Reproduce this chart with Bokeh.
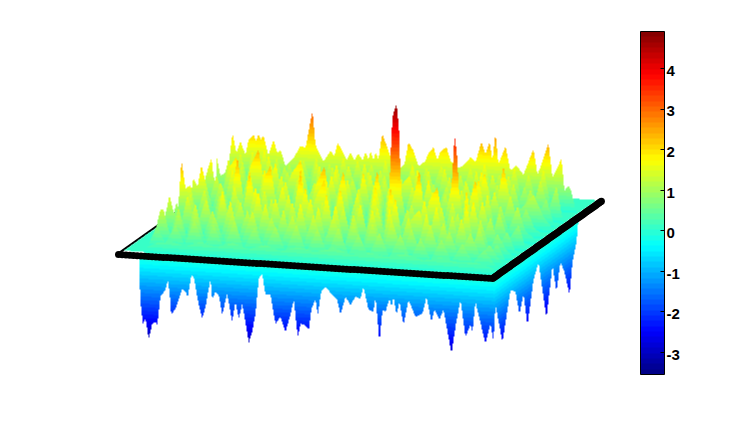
import numpy as np
from bokeh.plotting import figure
from bokeh.models import ColorBar, FixedTicker, LinearColorMapper, Range1d
from bokeh.core.properties import value
from bokeh.embed import file_html
from bokeh.resources import INLINE

# ---- values: z along ridges of the surface ----
Z_MIN, Z_MAX = -3.54, 4.91
BAR_TICKS = [-3, -2, -1, 0, 1, 2, 3, 4]
BAR_LABELS = ["-3", "-2", "-1", "0", "1", "2", "3", "4"]
PLANE_Z = 0.06

row01 = (0.85, [226,232,236,240,245,248,253,255.5,258,260.5,263,268,273,277,280,285,293,300,305,312,315,323,330,334,337,342,346,350,354,358,362,365,368,370,373,375,378,380,382,385,388,392,400,404,408,413,418,425,427,433,437,440,446,450,458,463,470,475,481,485,489,492,495,498,505,510,516,523,533,537,540,548,552,557,561,564,568,571,575],
         [0.2,2.08,1.33,1.8,1.28,1.86,2.06,1.85,2.08,1.9,2.05,1.33,1.92,1.43,1.55,0.99,1.28,1.76,1.69,3.1,1.83,1.24,1.64,1.46,1.96,1.67,1.35,1.62,1.35,1.63,1.35,1.69,1.4,1.73,1.4,1.7,1.45,2.0,2.38,2.09,1.79,1.33,1.16,1.33,2.15,1.85,1.29,1.5,1.73,2.02,1.57,1.88,2.06,1.57,1.31,1.42,1.74,1.56,2.35,1.9,2.37,1.68,2.69,1.55,2.22,1.35,1.55,1.22,2.2,1.26,1.54,2.44,1.18,1.58,1.9,0.72,0.92,0.7,0.05])
row02 = (0.78, [223,229,234,240,246,252,258,264,270,276,283,289,296,303,309,316,322,329,336,343,350,357,364,371,378,385,391,398,404,412,419,426,433,441,448,455,462,470,477,484,491,499,506,514,521,528,535,543,550,558],
         [.2,1.2,.6,1.6,.7,1.7,.8,1.8,.6,1.5,.7,1.3,.5,1.5,.8,1.6,.6,1.4,.7,1.7,.6,1.6,.8,1.5,.6,1.7,.7,1.3,.6,1.6,.7,1.5,.8,1.6,.6,1.3,.7,1.6,.6,1.8,.7,1.4,.6,1.7,.5,1.5,.6,1.7,.4,.1])
row03 = (0.72, [216,220,225,228,234,242,248,255,262,268,276,284,292,300,308,316,324,332,340,348,356,364,372,380,388,396,404,412,420,428,436,444,452,460,468,476,484,492,500,508,516,524,532,540,548,556,562],
         [1.6,.85,1.03,1.53,.5,1.5,.5,1.7,.6,1.8,.5,1.4,.4,1.7,.5,1.6,.4,1.5,.5,1.6,.6,1.7,.5,1.5,.4,1.3,.5,1.7,.6,1.6,.4,1.7,.6,1.5,.5,1.7,.4,1.6,.6,1.6,.4,1.2,.4,1.5,.4,1.3,.1])
row04 = (0.66, [210,216,222,228,235,241,248,256,264,271,279,287,295,302,310,319,327,336,344,352,360,368,376,384,392,401,409,417,425,433,441,449,457,465,473,481,489,497,505,513,521,530,538,546,553],
         [.2,1.1,.5,1.7,.6,1.5,.5,1.9,.5,1.6,.6,1.4,.5,1.6,.4,1.7,.5,1.8,.6,1.3,.5,1.6,.6,1.5,.5,1.4,.4,1.8,.6,1.3,.5,1.6,.4,1.5,.6,1.9,.5,1.4,.5,1.5,.4,1.3,.4,1.0,.1])
row05 = (0.6, [203,205,211,213,220,229,236,243,250,258,266,275,282,291,300,310,318,327,335,343,352,361,370,377,384,392,400,409,419,428,437,446,456,466,475,484,494,503,512,522,533,543,552],
         [.3,1.18,1.88,1.23,.5,1.6,2.0,.6,1.7,2.3,.6,1.9,.7,1.5,2.0,.5,1.5,.5,1.7,.6,1.4,.5,1.7,.5,1.5,.6,1.3,1.7,.5,1.5,.6,1.4,.5,1.6,.6,2.0,.5,2.3,.6,.8,1.3,.5,.1])
row06 = (0.52, [194,200,208,216,224,232,240,248,256,264,272,281,289,297,305,314,322,331,339,347,355,363,371,379,387,396,404,412,420,428,436,445,453,461,469,478,486,494,502,510,518,526,534,542],
         [.2,1.3,.5,1.5,.6,1.8,.5,1.6,.5,1.9,.5,1.7,.4,1.6,.6,1.5,.5,1.8,.6,1.7,.5,2.0,.5,1.6,.4,1.2,.5,1.6,.5,1.9,.5,1.4,.4,1.6,.5,2.0,.5,1.6,.5,1.5,.4,1.0,.3,.1])
row07 = (0.45, [187,193,197,201,205,212,220,229,237,244,249,257,264,270,277,285,293,300,308,315,324,332,343,350,358,366,377,383,387,389,390,392,395,396,397,399,399.5,401,406,413,419,425,432,440,445,451,453,454,455,457,458,464,470,475,481,487,494,500,508,517,525,535],
         [.2,1.58,1.25,2.07,1.46,.5,1.5,.6,2.45,.7,2.0,.6,1.8,2.2,.6,1.7,.5,2.2,.5,1.6,2.3,.6,2.2,.5,1.6,.5,2.3,.5,1.5,1.7,2.8,4.3,4.7,4.8,4.5,3.6,2.8,1.5,.5,1.4,2.4,.5,1.7,.5,.8,1.9,3.0,3.83,3.5,2.9,1.9,.5,1.5,2.2,.6,1.7,.5,1.3,.4,1.3,.4,.1])
row08 = (0.36, [177,178,181,185,190,196,204,212,219,227,234,241,249,257,264,272,282,291,300,307,316,324,331,339,347,357,365,375,384,392,402,411,420,429,437,444,452,460,466,473,482,491,499,508,518,525],
         [.2,.86,2.5,1.45,1.58,.5,1.5,.4,1.3,.4,1.7,.5,2.2,.5,1.6,.4,1.8,.5,2.3,.5,1.5,2.1,.5,1.7,.4,1.7,.4,2.0,.5,1.8,.4,1.4,.4,1.6,2.1,.5,1.6,.4,2.1,.4,1.7,.4,1.3,.3,.9,.1])
row09 = (0.30, [170,176,183,190,197,205,213,222,230,238,246,255,263,271,279,288,296,305,313,322,330,340,348,357,365,374,382,390,398,407,415,424,432,441,449,457,465,473,481,490,498,507,515],
         [.2,1.1,.4,1.5,.4,1.3,.4,1.7,.5,1.4,.4,1.9,.4,1.5,.4,1.7,.5,2.0,.4,1.5,.4,2.0,.5,1.4,.4,1.9,.4,2.2,.5,1.4,.4,1.8,.4,1.6,.4,1.4,.5,1.9,.4,1.3,.3,.8,.1])
row10 = (0.24, [163,165,169,173,180,187,196,206,214,222,230,240,248,258,266,275,284,292,300,310,318,326,334,343,351,360,368,377,386,395,402,410,419,427,436,444,452,459,466,473,480,489,497,506,512],
         [.2,.83,1.53,.97,.4,1.6,.4,1.5,.4,1.8,.4,1.5,.4,1.9,.4,1.7,.4,1.6,.4,1.8,.4,2.0,.5,1.5,.4,1.7,.4,1.6,.4,2.0,.4,1.2,1.6,.4,1.8,.4,1.5,.4,2.0,.4,1.4,.3,.9,.3,.1])
row11 = (0.18, [157,163,170,178,186,195,203,212,220,230,238,247,255,265,274,283,291,300,309,318,326,335,344,353,362,372,381,389,398,408,417,426,434,443,452,461,470,479,488,497,505],
         [.2,.9,.3,1.3,.3,1.5,.3,1.3,.3,1.7,.3,1.4,.3,1.7,.3,1.5,.3,1.8,.3,1.7,.3,1.8,.3,1.5,.3,1.7,.3,1.8,.3,1.5,.3,1.7,.3,1.4,.3,1.6,.3,1.3,.3,.7,.1])
row12 = (0.14, [153,158,160,163,170,178,186,195,204,214,223,232,241,252,261,271,280,292,303,313,322,333,343,353,362,372,382,391,402,411,420,430,439,449,458,470,480,489,498,503],
         [.1,1.03,1.3,1.31,.3,1.2,.3,1.3,.3,1.2,.3,1.4,.3,1.5,.3,1.3,.3,1.4,.3,1.5,.3,1.5,.3,1.3,.3,1.3,.3,1.5,.3,1.2,.3,1.4,.3,1.2,.3,1.2,.3,.8,.3,.1])
row13 = (0.10, [148,156,165,175,184,194,204,213,223,234,243,254,264,275,285,296,306,317,327,338,348,358,368,379,389,400,410,420,430,441,451,462,472,484,494,500],
         [.1,.8,.2,.9,.2,1.1,.2,1.0,.2,1.2,.2,1.0,.2,1.1,.2,1.2,.2,1.1,.2,1.2,.2,1.0,.2,1.1,.2,1.1,.2,1.0,.2,1.0,.2,.9,.2,.7,.2,.05])
row14 = (0.06, [143,155,170,185,200,215,232,248,265,280,298,315,333,350,368,385,405,423,440,458,475,490,497],
         [.05,.3,.4,.25,.45,.3,.5,.3,.5,.3,.5,.35,.55,.35,.45,.35,.5,.3,.45,.3,.35,.2,.05])

under_front_v = 0.02
under_front_x = [138.3,140,142.3,145,148.3,151.7,155,156.7,160,165,167.3,169.3,170.7,175,181.7,185,187.3,191,193.3,197.3,201.7,205,210,211.7,215,218.3,221.7,226.7,231.7,235,238.3,241.7,245,248.3,251.7,255,258.3,261.7,265,270,275,280,285,290,293.3,297.3,300,303.3,308.3,311,315,317.3,320.7,325,331.7,336.7,340,345,350,355,360,363,368,373,375,379,382,385,389,391,393,396,399,403,408,415,422,426,431,434,439,443,451,455,460,465,470,472,475,485,490,492]
under_front_z = [-0.2,-1.7,-2.5,-2.33,-3.06,-2.5,-2.41,-2.52,-1.47,-1.2,-0.83,-1.38,-2.11,-1.88,-1.13,-1.23,-1.41,-0.59,-0.66,-1.5,-2.19,-1.74,-0.69,-1.43,-1.16,-1.27,-1.99,-1.2,-2.23,-1.48,-2.1,-1.54,-2.2,-2.97,-2.55,-1.88,-0.57,-0.38,-1.15,-1.14,-2.2,-1.93,-2.47,-1.83,-1.27,-2.63,-2.14,-2.17,-2.34,-1.56,-1.18,-1.77,-0.91,-0.71,-0.99,-1.17,-1.71,-1.03,-1.32,-1.01,-1.07,-0.62,-1.46,-1.52,-0.96,-2.62,-1.43,-1.5,-1.0,-1.3,-0.92,-1.58,-1.09,-1.93,-1.0,-1.61,-1.48,-0.84,-1.76,-1.3,-1.66,-1.28,-2.89,-1.88,-0.87,-2.23,-1.77,-2.03,-0.91,-2.44,-1.69,-2.1]

under_right_x = [492,493,495,502,507,510,515,519,523,527,533,538,546,552,556,560,564,569,572,576,578]
under_right_z = [-2.1,-2.26,-1.0,-2.56,-1.48,-0.85,-1.04,-1.96,-1.33,-2.59,-1.07,-0.56,-2.81,-1.04,-2.11,-1.11,-1.59,-2.56,-1.44,-0.81,0.0]

# ---- projection of the view (u along the front edge, v into the depth) ----
OX, OY = 118.0, 254.0
UX, UY = 374.0, 24.0
VX, VY = 110.0, -78.0
ZK = 27.0
WIN_W, WIN_H = 754, 421
FIG_W, FIG_H = 738, 405


def project(u, v, z=0.0):
    return OX + UX * u + VX * v, OY + UY * u + VY * v - ZK * z


def jet(n):
    cols = []
    for i in range(n):
        t = (i + 0.5) / n
        r = np.clip(min(4 * t - 1.5, -4 * t + 4.5), 0, 1)
        g = np.clip(min(4 * t - 0.5, -4 * t + 3.5), 0, 1)
        b = np.clip(min(4 * t + 0.5, -4 * t + 2.5), 0, 1)
        cols.append("#%02x%02x%02x" % (int(r * 255), int(g * 255), int(b * 255)))
    return cols


raster = np.full((WIN_H, WIN_W), np.nan)
yy, xx = np.mgrid[0:WIN_H, 0:WIN_W]
pxc, pyc = xx + 0.5, yy + 0.5


def paint(xs, zs, base_of_x):
    xs = np.asarray(xs, float)
    zs = np.asarray(zs, float)
    for col in range(int(np.ceil(xs[0])), int(np.floor(xs[-1])) + 1):
        z = float(np.interp(col + 0.5, xs, zs))
        yb = base_of_x(col + 0.5)
        ytop = yb - ZK * z
        lo, hi = sorted((yb, ytop))
        for row in range(int(np.floor(lo)), int(np.ceil(hi)) + 1):
            raster[row, col] = (yb - (row + 0.5)) / ZK


def base_v(v):
    return lambda x: project((x - OX - VX * v) / UX, v)[1]


def base_u(u):
    return lambda x: project(u, (x - OX - UX * u) / VX)[1]


# underside first
paint(under_right_x, under_right_z, base_u(1.0))
paint(under_front_x, under_front_z, base_v(under_front_v))

# flat sheet at about zero
det = UX * VY - VX * UY
du = (VY * (pxc - OX) - VX * (pyc - OY)) / det
dv = (UX * (pyc - OY) - UY * (pxc - OX)) / det
sheet = (du >= 0) & (du <= 0.985) & (dv >= 0) & (dv <= 1) & ~((du < 0.06) & (dv < 0.05))
raster[sheet] = PLANE_Z

# ridges, back to front
for v, xs, zs in [row01, row02, row03, row04, row05, row06, row07, row08, row09, row10, row11, row12, row13, row14]:
    paint(xs, zs, base_v(v))

mapper = LinearColorMapper(palette=jet(64), low=Z_MIN, high=Z_MAX, nan_color="rgba(0,0,0,0)")

p = figure(width=FIG_W, height=FIG_H, x_range=Range1d(0, FIG_W), y_range=Range1d(WIN_H - FIG_H, WIN_H),
           output_backend="svg", toolbar_location=None, min_border=0)
p.axis.visible = False
p.grid.visible = False
p.outline_line_color = None
p.background_fill_color = "white"
p.border_fill_color = "white"


def Y(y):
    return WIN_H - np.asarray(y, float)


# thin back-left edge goes behind the surface
lx, ly = project(np.array([-0.004, -0.004]), np.array([0.0, 1.0]))
p.line(lx, Y(ly), line_color="black", line_width=2)

p.image(image=[raster[0:FIG_H, 0:FIG_W][::-1]], x=0, y=WIN_H - FIG_H, dw=FIG_W, dh=FIG_H, color_mapper=mapper)

# thick front and right edges, a string of grid-node markers
t = np.linspace(0, 1, 101)
fx, fy = project(t, 0 * t)
rx, ry = project(1 + 0 * t[:-1], t[:-1] * 0.99 + 0.01)
p.scatter(np.r_[fx, rx], Y(np.r_[fy, ry]), size=7, marker="circle", fill_color="black", line_color=None)

# colour bar
BAR_X0, BAR_X1, BAR_TOP, BAR_BOTTOM = 640, 664, 31, 374
cb = ColorBar(color_mapper=mapper, ticker=FixedTicker(ticks=BAR_TICKS),
              major_label_overrides={k: "" for k in BAR_TICKS},
              location=(BAR_X0, WIN_H - BAR_BOTTOM - (WIN_H - FIG_H)), width=BAR_X1 - BAR_X0, height=BAR_BOTTOM - BAR_TOP,
              padding=0, margin=0, background_fill_alpha=0, border_line_color=None,
              bar_line_color="black", bar_line_width=1,
              major_tick_in=4, major_tick_out=0, major_tick_line_color="black",
              minor_tick_line_color=None)
p.add_layout(cb, "center")

tick_y = BAR_BOTTOM - (np.array(BAR_TICKS) - Z_MIN) * (BAR_BOTTOM - BAR_TOP) / (Z_MAX - Z_MIN)
p.segment(x0=[BAR_X0] * len(tick_y), x1=[BAR_X0 + 4] * len(tick_y), y0=Y(tick_y), y1=Y(tick_y), line_color="black", line_width=1)
p.text(x=[BAR_X1 + 2] * len(tick_y), y=Y(tick_y + 2.4), text=BAR_LABELS, text_font=value("Liberation Sans"),
       text_font_style="bold", text_font_size="15px", text_baseline="middle", text_align="left", text_color="black")

open("out.html", "w").write(file_html(p, INLINE))
